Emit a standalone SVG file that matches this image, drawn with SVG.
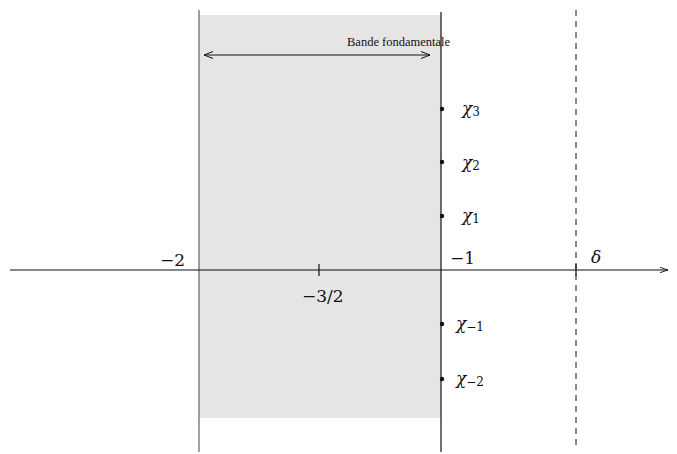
<svg xmlns="http://www.w3.org/2000/svg" width="677" height="454" viewBox="0 0 677 454">
<style>
.math{font-family:"DejaVu Serif",serif;font-size:17px;fill:#111}
.it{font-style:italic}
.sub{font-size:12px;font-style:normal}
.lbl{font-family:"Liberation Serif",serif;font-size:12.5px;fill:#111}
.ax{stroke:#111;stroke-width:1.2;fill:none}
</style>
<defs>
<marker id="open" viewBox="0 0 10 10" refX="9" refY="5" markerWidth="10" markerHeight="10" markerUnits="userSpaceOnUse" orient="auto-start-reverse">
<path d="M0,1.5 L9,5 L0,8.5" fill="none" stroke="#111" stroke-width="1"/>
</marker>
<marker id="axarr" viewBox="0 0 10 10" refX="9" refY="5" markerWidth="9" markerHeight="9" markerUnits="userSpaceOnUse" orient="auto">
<path d="M0,2 L9,5 L0,8" fill="none" stroke="#111" stroke-width="1"/>
</marker>
</defs>
<rect width="677" height="454" fill="#fff"/>
<g id="band">
<rect x="199" y="15" width="242" height="403" fill="#e5e5e5"/>
</g>
<g id="connectors">
<line x1="199" y1="10" x2="199" y2="452" stroke="#808080" stroke-width="1.5"/>
<line x1="441" y1="12" x2="441" y2="452" stroke="#111" stroke-width="1.2"/>
<line x1="576" y1="10" x2="576" y2="448" stroke="#111" stroke-width="1" stroke-dasharray="6,5"/>
<line x1="10" y1="270" x2="668" y2="270" class="ax" marker-end="url(#axarr)"/>
<line x1="319" y1="264" x2="319" y2="276" class="ax"/>
<line x1="576" y1="264" x2="576" y2="276" class="ax"/>
<line x1="204" y1="55" x2="430" y2="55" stroke="#111" stroke-width="1" marker-start="url(#open)" marker-end="url(#open)"/>
</g>
<g id="label-band"><text class="lbl" x="347" y="46">Bande fondamentale</text></g>
<g id="m2"><text class="math" x="160" y="266">−2</text></g>
<g id="m32"><text class="math" x="302" y="302">−3/2</text></g>
<g id="m1"><text class="math" x="450" y="264">−1</text></g>
<g id="delta"><text class="math it" x="591" y="263">δ</text></g>
<g id="chi3"><circle cx="442" cy="109" r="2.2" fill="#111"/><text class="math it" x="462" y="114">χ<tspan class="sub" dy="2">3</tspan></text></g>
<g id="chi2"><circle cx="442" cy="162" r="2.2" fill="#111"/><text class="math it" x="462" y="168">χ<tspan class="sub" dy="2">2</tspan></text></g>
<g id="chi1"><circle cx="442" cy="216" r="2.2" fill="#111"/><text class="math it" x="462" y="221">χ<tspan class="sub" dy="2">1</tspan></text></g>
<g id="chim1"><circle cx="442" cy="324" r="2.2" fill="#111"/><text class="math it" x="456" y="329">χ<tspan class="sub" dy="2">−1</tspan></text></g>
<g id="chim2"><circle cx="442" cy="379" r="2.2" fill="#111"/><text class="math it" x="456" y="384">χ<tspan class="sub" dy="2">−2</tspan></text></g>
</svg>
